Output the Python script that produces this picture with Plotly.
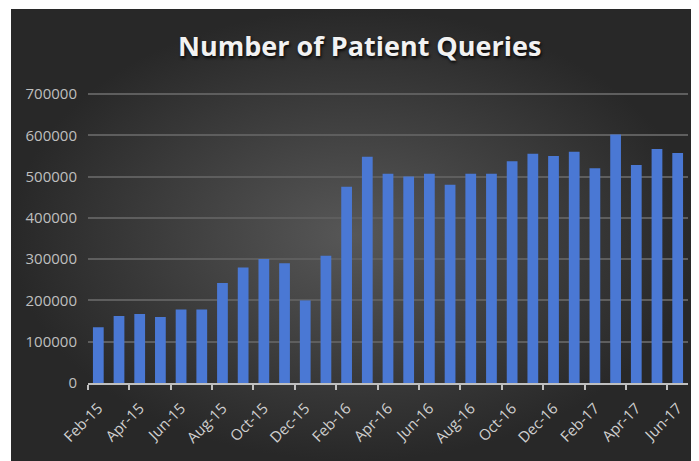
import plotly.graph_objects as go

# monthly patient queries, Feb-15 .. Jun-17
months = ['Feb-15', 'Mar-15', 'Apr-15', 'May-15', 'Jun-15', 'Jul-15', 'Aug-15', 'Sep-15',
          'Oct-15', 'Nov-15', 'Dec-15', 'Jan-16', 'Feb-16', 'Mar-16', 'Apr-16', 'May-16',
          'Jun-16', 'Jul-16', 'Aug-16', 'Sep-16', 'Oct-16', 'Nov-16', 'Dec-16', 'Jan-17',
          'Feb-17', 'Mar-17', 'Apr-17', 'May-17', 'Jun-17']
queries = [135000, 162000, 167000, 160000, 178000, 178000, 242000, 280000,
           300000, 290000, 200000, 308000, 475000, 548000, 507000, 500000,
           507000, 480000, 507000, 507000, 537000, 555000, 550000, 560000,
           520000, 602000, 528000, 567000, 557000]
y_ticks = [0, 100000, 200000, 300000, 400000, 500000, 600000, 700000]

fig = go.Figure()

# dark radial background, drawn on its own full-size axes
fig.add_trace(go.Scatter(
    x=[0, 1, 1, 0, 0],
    y=[0, 0, 1, 1, 0],
    fill='toself',
    fillgradient=dict(type='radial', colorscale=[[0, '#575757'], [1, '#282828']]),
    mode='lines',
    line=dict(width=0),
    hoverinfo='skip',
    showlegend=False,
    xaxis='x', yaxis='y'
))

fig.add_trace(go.Bar(
    x=months,
    y=queries,
    marker=dict(color='#4a78d4', line=dict(width=0)),
    width=0.52,
    showlegend=False,
    xaxis='x2', yaxis='y2'
))

# page body has an 8px margin, so the figure is 8px smaller than the window
fig.update_layout(
    width=691, height=453,
    margin=dict(l=3, r=2, t=1, b=0, autoexpand=False),
    paper_bgcolor='white',
    plot_bgcolor='rgba(0,0,0,0)',
    hovermode=False,
    title=dict(
        text='<b>Number of Patient Queries</b>',
        font=dict(family='Open Sans', size=27, color='#f2f2f2',
                  shadow='1px 2px 3px rgba(0,0,0,0.85)'),
        xref='container', yref='container',
        x=0.509, y=0.914, xanchor='center', yanchor='middle'
    ),
    xaxis=dict(domain=[0, 1], range=[0, 1], visible=False, fixedrange=True),
    yaxis=dict(domain=[0, 1], range=[0, 1], visible=False, fixedrange=True),
    xaxis2=dict(
        domain=[0.1122, 0.9869], anchor='y2',
        type='category',
        tickmode='linear', tick0=0, dtick=2,
        tickson='boundaries',
        ticks='outside', ticklen=5, tickcolor='#bfbfbf', tickwidth=1.5,
        showline=True, linecolor='#bfbfbf', linewidth=1.5,
        showgrid=False,
        tickangle=-45,
        ticklabelstandoff=9,
        automargin=False,
        tickfont=dict(family='Open Sans', size=15, color='#d0d0d0'),
    ),
    yaxis2=dict(
        domain=[0.1726, 0.8257], anchor='x2',
        range=[0, 715000],
        tickvals=y_ticks,
        ticktext=[str(v) for v in y_ticks],
        showgrid=True, gridcolor='#5e5e5e', gridwidth=1.5,
        zeroline=False,
        ticks='',
        ticklabelstandoff=10,
        automargin=False,
        tickfont=dict(family='Open Sans', size=15, color='#bfbfbf'),
    ),
)

fig.write_html("out.html")
